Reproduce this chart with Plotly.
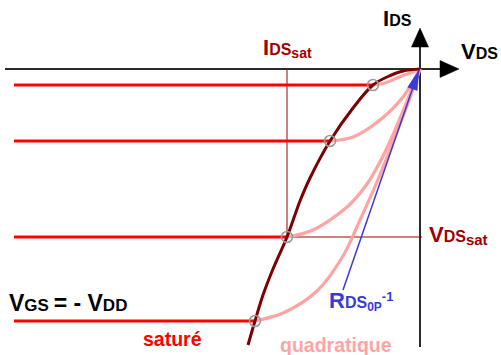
import numpy as np
import plotly.graph_objects as go

# ---- data (schematic units: origin at axes crossing) ----
vds_sat = [-4.7, -9.0, -13.3, -16.5]
ids_sat = [-1.6, -7.2, -16.8, -25.2]
vgs_line_start = -40.6

# saturation boundary (parabola)
sat_curve_v = [0.0, -1.7, -3.3, -4.7, -6.7, -9.0, -11.0, -12.0, -13.3, -14.7, -15.7, -16.5, -17.2]
sat_curve_i = [0.0, -0.2, -0.8, -1.6, -3.9, -7.2, -10.9, -13.2, -16.8, -20.0, -22.6, -25.2, -27.6]

# quadratic (ohmic) region curves, from each saturation point to origin
quad_v = [
    [-4.7, -3.5, -2.3, -1.0, 0.0],
    [-9.0, -6.7, -4.0, -1.7, 0.0],
    [-13.3, -10.7, -7.3, -5.3, -4.0, -2.8, -1.5, 0.0],
    [-16.5, -13.7, -10.3, -7.7, -6.0, -4.3, -2.7, -1.3, 0.0],
]
quad_i = [
    [-1.6, -1.4, -0.9, -0.4, 0.0],
    [-7.2, -6.8, -5.1, -2.8, 0.0],
    [-16.8, -16.1, -13.8, -11.5, -9.3, -6.8, -3.7, 0.0],
    [-25.2, -24.4, -22.2, -18.7, -15.1, -11.3, -7.3, -3.7, 0.0],
]

# RDS_on^-1 tangent arrow
rds_v = [-7.7, -0.1]
rds_i = [-22.1, -0.1]

# ---- styles ----
FONT = "Liberation Sans, Arial, sans-serif"
RED = "#ff0000"
MAROON = "#7d0000"
PINK = "#ffa3a3"
DKRED = "#a00000"
BLUE = "#3a3ad8"
AXIS = "#2b2b2b"

fig = go.Figure()

# axes lines + arrowheads
fig.add_trace(go.Scatter(x=[-41.5, 2.0], y=[0, 0], mode="lines",
                         line=dict(color=AXIS, width=2), hoverinfo="skip"))
fig.add_trace(go.Scatter(x=[0, 0], y=[-27.8, 2.3], mode="lines",
                         line=dict(color=AXIS, width=2), hoverinfo="skip"))
fig.add_trace(go.Scatter(x=[2.0, 3.9, 2.0, 2.0], y=[0.85, 0, -0.85, 0.85], mode="lines",
                         fill="toself", fillcolor="black", line=dict(color="black", width=0.5),
                         hoverinfo="skip"))
fig.add_trace(go.Scatter(x=[-0.85, 0, 0.85, -0.85], y=[2.2, 4.1, 2.2, 2.2], mode="lines",
                         fill="toself", fillcolor="black", line=dict(color="black", width=0.5),
                         hoverinfo="skip"))

# thin VDSsat / IDSsat guide lines
fig.add_trace(go.Scatter(x=[vds_sat[2], vds_sat[2]], y=[0, ids_sat[2]], mode="lines",
                         line=dict(color=DKRED, width=1), hoverinfo="skip"))
fig.add_trace(go.Scatter(x=[vds_sat[2], 0.2], y=[ids_sat[2], ids_sat[2]], mode="lines",
                         line=dict(color=DKRED, width=1), hoverinfo="skip"))

# quadratic curves
for qv, qi in zip(quad_v, quad_i):
    fig.add_trace(go.Scatter(x=qv, y=qi, mode="lines",
                             line=dict(color=PINK, width=3.2, shape="spline", smoothing=0.9),
                             hoverinfo="skip"))

# red constant-current (saturated) lines
for vs, ii in zip(vds_sat, ids_sat):
    fig.add_trace(go.Scatter(x=[vgs_line_start, vs], y=[ii, ii], mode="lines",
                             line=dict(color=RED, width=3), hoverinfo="skip"))

# saturation boundary
fig.add_trace(go.Scatter(x=sat_curve_v, y=sat_curve_i, mode="lines",
                         line=dict(color=MAROON, width=3, shape="spline", smoothing=1.0),
                         hoverinfo="skip"))

# blue tangent arrow
fig.add_trace(go.Scatter(x=rds_v, y=rds_i, mode="lines",
                         line=dict(color=BLUE, width=1.5), hoverinfo="skip"))
d = np.array([rds_v[1] - rds_v[0], rds_i[1] - rds_i[0]])
d = d / np.linalg.norm(d)
n = np.array([-d[1], d[0]])
tip = np.array([rds_v[1], rds_i[1]])
base = tip - 2.0 * d
p1 = base + 0.5 * n
p2 = base - 0.5 * n
fig.add_trace(go.Scatter(x=[tip[0], p1[0], p2[0], tip[0]], y=[tip[1], p1[1], p2[1], tip[1]],
                         mode="lines", fill="toself", fillcolor=BLUE,
                         line=dict(color=BLUE, width=0.5), hoverinfo="skip"))

# saturation points
fig.add_trace(go.Scatter(x=vds_sat, y=ids_sat, mode="markers",
                         marker=dict(symbol="circle-open", size=11, color="#9a9a9a",
                                     line=dict(width=1.6, color="#9a9a9a")),
                         hoverinfo="skip"))


def big(t, s=22):
    return f"<span style='font-size:{s}px'>{t}</span>"


def small(t, s):
    return f"<span style='font-size:{s}px'>{t}</span>"


ann = [
    dict(x=-2.3, y=5.1, text=big("I") + "DS", color="black", xanchor="center", size=16),
    dict(x=3.9, y=1.8, text=big("V") + "DS", color="black", xanchor="left", size=16),
    dict(x=-15.9, y=2.1, text=big("I") + "DS<sub>" + small("sat", 14) + "</sub>",
         color=DKRED, xanchor="left", size=16),
    dict(x=0.7, y=-16.6, text=big("V") + "DS<sub>" + small("sat", 15) + "</sub>",
         color=DKRED, xanchor="left", size=16),
    dict(x=-9.3, y=-23.2,
         text=big("R") + "DS<sub>" + small("0P", 12) + "</sub><sup>" + small("-1", 13) + "</sup>",
         color=BLUE, xanchor="left", size=16),
    dict(x=-41.3, y=-23.4, text=big("V", 23) + "GS " + big("= - V", 23) + "DD", color="black",
         xanchor="left", size=17),
]
for a in ann:
    fig.add_annotation(x=a["x"], y=a["y"], text="<b>" + a["text"] + "</b>", xref="x", yref="y",
                       xanchor=a["xanchor"], yanchor="middle", showarrow=False,
                       font=dict(family=FONT, size=a["size"], color=a["color"]))

fig.add_annotation(x=-24.8, y=-27.0, text="<b>saturé</b>", xref="x", yref="y",
                   showarrow=False, font=dict(family=FONT, size=19.5, color=RED))
fig.add_annotation(x=-8.4, y=-27.6, text="<b>quadratique</b>", xref="x", yref="y",
                   showarrow=False, font=dict(family=FONT, size=19.5, color=PINK))

fig.update_layout(
    width=501, height=355,
    margin=dict(l=0, r=0, t=0, b=0),
    paper_bgcolor="white", plot_bgcolor="white",
    showlegend=False,
    hovermode=False,
    xaxis=dict(range=[-42.0, 8.1], visible=False, fixedrange=True),
    yaxis=dict(range=[-28.6, 6.9], visible=False, fixedrange=True),
)

fig.write_html("out.html", config={"displayModeBar": False, "staticPlot": True},
               post_script="document.body.style.margin='0px';")
